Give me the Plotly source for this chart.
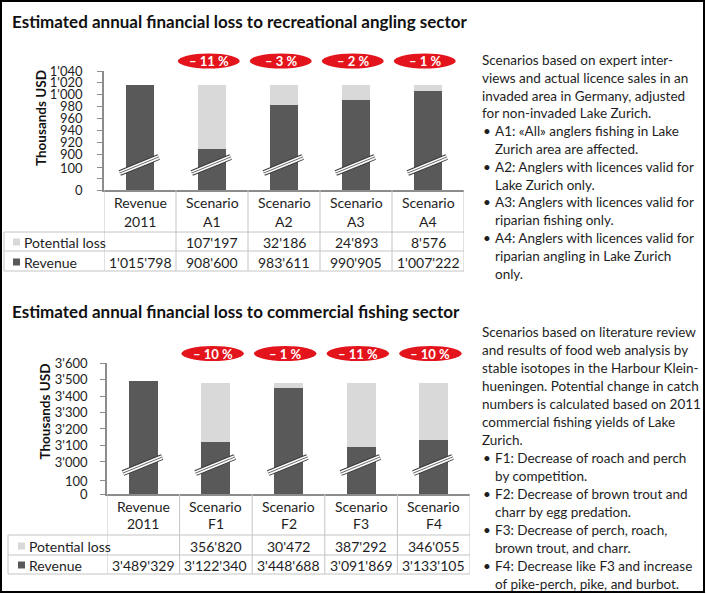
import numpy as np
import plotly.graph_objects as go

W, H = 706, 594

# ---------------- data ----------------
ang_title = "Estimated annual financial loss to recreational angling sector"
ang_cat_top = ["Revenue", "Scenario", "Scenario", "Scenario", "Scenario"]
ang_cat_bot = ["2011", "A1", "A2", "A3", "A4"]
ang_revenue = [1015798, 908600, 983611, 990905, 1007222]
ang_loss = [None, 107197, 32186, 24893, 8576]
ang_ticks = [0, 50, 100, 900, 920, 940, 960, 980, 1000, 1020, 1040]
ang_tick_text = ["0", "", "100", "900", "920", "940", "960", "980", "1'000", "1'020", "1'040"]
ang_notes = [
    ("p", "Scenarios based on expert inter-"),
    ("p", "views and actual licence sales in an"),
    ("p", "invaded area in Germany, adjusted"),
    ("p", "for non-invaded Lake Zurich."),
    ("b", "A1: «All» anglers fishing in Lake"),
    ("c", "Zurich area are affected."),
    ("b", "A2: Anglers with licences valid for"),
    ("c", "Lake Zurich only."),
    ("b", "A3: Anglers with licences valid for"),
    ("c", "riparian fishing only."),
    ("b", "A4: Anglers with licences valid for"),
    ("c", "riparian angling in Lake Zurich"),
    ("c", "only."),
]

com_title = "Estimated annual financial loss to commercial fishing sector"
com_cat_top = ["Revenue", "Scenario", "Scenario", "Scenario", "Scenario"]
com_cat_bot = ["2011", "F1", "F2", "F3", "F4"]
com_revenue = [3489329, 3122340, 3448688, 3091869, 3133105]
com_loss = [None, 356820, 30472, 387292, 346055]
com_ticks = [0, 100, 3000, 3100, 3200, 3300, 3400, 3500, 3600]
com_tick_text = ["0", "100", "3'000", "3'100", "3'200", "3'300", "3'400", "3'500", "3'600"]
com_notes = [
    ("p", "Scenarios based on literature review"),
    ("p", "and results of food web analysis by"),
    ("p", "stable isotopes in the Harbour Klein-"),
    ("p", "hueningen. Potential change in catch"),
    ("p", "numbers is calculated based on 2011"),
    ("p", "commercial fishing yields of Lake"),
    ("p", "Zurich."),
    ("b", "F1: Decrease of roach and perch"),
    ("c", "by competition."),
    ("b", "F2: Decrease of brown trout and"),
    ("c", "charr by egg predation."),
    ("b", "F3: Decrease of perch, roach,"),
    ("c", "brown trout, and charr."),
    ("b", "F4: Decrease like F3 and increase"),
    ("c", "of pike-perch, pike, and burbot."),
]

series_names = ["Potential loss", "Revenue"]

# ---------------- style ----------------
FONT = "Lato"
DARK = "#595959"
LIGHT = "#d9d9d9"
RED = "#e3141b"
GRID = "#c4c4c4"
AXIS = "#8c8c8c"
TXT = "#1e1e1e"
NOTE_SIZE = 13.5


def px(x):
    return x / W


def py(y):
    return 1 - y / H


def fmt(v):
    return f"{v:,}".replace(",", "'")


panels = [
    dict(xa="x", ya="y", x0=104, x1=464, ybot=190, ytop=71,
         knots_v=[0, 100, 900, 1040], knots_d=[0, 1.85, 3.0, 10.0],
         brk=(1.43, 2.77), title_y=22, badge_y=61,
         head_y=(203, 222), row_y=(242, 262), hl=(232, 251, 271),
         tleft=4, sq_x=13, lab_x=22, at_x=41, at_y=118, standoff=12,
         cat_top=ang_cat_top, cat_bot=ang_cat_bot, rev=ang_revenue, loss=ang_loss,
         ticks=ang_ticks, tick_text=ang_tick_text, title=ang_title,
         notes=ang_notes, note_y0=60, note_dy=17.8),
    dict(xa="x2", ya="y2", x0=107, x1=470, ybot=494, ytop=363,
         knots_v=[0, 100, 3000, 3600], knots_d=[0, 0.79, 1.94, 7.94],
         brk=(1.27, 2.24), title_y=311, badge_y=353.5,
         head_y=(506, 523), row_y=(546, 565), hl=(535, 555, 574),
         tleft=8, sq_x=18, lab_x=27, at_x=44.5, at_y=412, standoff=10,
         cat_top=com_cat_top, cat_bot=com_cat_bot, rev=com_revenue, loss=com_loss,
         ticks=com_ticks, tick_text=com_tick_text, title=com_title,
         notes=com_notes, note_y0=332, note_dy=18.0),
]

fig = go.Figure()
shapes = []
annos = []

for k, p in enumerate(panels):
    kv, kd = p["knots_v"], p["knots_d"]

    def d(v, kv=kv, kd=kd):
        return float(np.interp(v, kv, kd))

    n = len(p["rev"])
    xs = list(range(n))
    rev_k = [r / 1000 for r in p["rev"]]
    loss_k = [(l or 0) / 1000 for l in p["loss"]]
    rev_d = [d(r) for r in rev_k]
    tot_d = [d(r + l) for r, l in zip(rev_k, loss_k)]

    fig.add_trace(go.Bar(x=xs, y=rev_d, base=0, width=0.4, marker=dict(color=DARK, line=dict(width=0)),
                         name=series_names[1], xaxis=p["xa"], yaxis=p["ya"], showlegend=False,
                         hoverinfo="skip"))
    fig.add_trace(go.Bar(x=xs, y=[t - r for t, r in zip(tot_d, rev_d)], base=rev_d, width=0.4,
                         marker=dict(color=LIGHT, line=dict(width=0)),
                         name=series_names[0], xaxis=p["xa"], yaxis=p["ya"], showlegend=False,
                         hoverinfo="skip"))

    # break marks
    b0, b1 = p["brk"]
    for i in xs:
        for w, c in [(6, "#3a3a3a"), (4, "white"), (1, "#6a6a6a")]:
            shapes.append(dict(type="line", xref=p["xa"], yref=p["ya"], x0=i - 0.28, x1=i + 0.26,
                               y0=b0, y1=b1, line=dict(color=c, width=w), layer="above"))

    # badges
    for i in xs:
        if p["loss"][i] is None:
            continue
        pct = round(100 * p["loss"][i] / p["rev"][0])
        cx = i - 0.045
        shapes.append(dict(type="circle", xref=p["xa"], yref="paper", x0=cx - 0.43, x1=cx + 0.43,
                           y0=py(p["badge_y"] + 7.5), y1=py(p["badge_y"] - 7.5),
                           fillcolor=RED, line=dict(width=0)))
        annos.append(dict(xref=p["xa"], yref="paper", x=cx, y=py(p["badge_y"]), text=f"\u2013 {pct} %",
                          showarrow=False, font=dict(family=FONT, size=13, color="white", weight="bold"),
                          xanchor="center", yanchor="middle"))

    # table grid
    for j in range(n + 1):
        shapes.append(dict(type="line", xref=p["xa"], yref="paper", x0=j - 0.5, x1=j - 0.5,
                           y0=py(p["ybot"]), y1=py(p["hl"][2]), line=dict(color=GRID, width=1)))
    shapes.append(dict(type="line", xref="paper", yref="paper", x0=px(p["tleft"]), x1=px(p["tleft"]),
                       y0=py(p["hl"][0]), y1=py(p["hl"][2]), line=dict(color=GRID, width=1)))
    for yy in p["hl"]:
        shapes.append(dict(type="line", xref="paper", yref="paper", x0=px(p["tleft"]), x1=px(p["x1"]),
                           y0=py(yy), y1=py(yy), line=dict(color=GRID, width=1)))

    # header text
    for i in xs:
        for line, yy in zip([p["cat_top"][i], p["cat_bot"][i]], p["head_y"]):
            annos.append(dict(xref=p["xa"], yref="paper", x=i, y=py(yy), text=line, showarrow=False,
                              font=dict(family=FONT, size=14, color=TXT), xanchor="center", yanchor="middle"))
    # row labels with swatches
    for (name, col), yy in zip([(series_names[0], LIGHT), (series_names[1], DARK)], p["row_y"]):
        shapes.append(dict(type="rect", xref="paper", yref="paper", x0=px(p["sq_x"]), x1=px(p["sq_x"] + 7),
                           y0=py(yy + 3.5), y1=py(yy - 3.5), fillcolor=col, line=dict(width=0)))
        annos.append(dict(xref="paper", yref="paper", x=px(p["lab_x"]), y=py(yy), text=name, showarrow=False,
                          font=dict(family=FONT, size=14, color=TXT), xanchor="left", yanchor="middle"))
    # values
    for i in xs:
        if p["loss"][i] is not None:
            annos.append(dict(xref=p["xa"], yref="paper", x=i, y=py(p["row_y"][0]), text=fmt(p["loss"][i]),
                              showarrow=False, font=dict(family=FONT, size=14, color=TXT),
                              xanchor="center", yanchor="middle"))
        annos.append(dict(xref=p["xa"], yref="paper", x=i, y=py(p["row_y"][1]), text=fmt(p["rev"][i]),
                          showarrow=False, font=dict(family=FONT, size=14, color=TXT),
                          xanchor="center", yanchor="middle"))

    # title
    annos.append(dict(xref="paper", yref="paper", x=px(10), y=py(p["title_y"]), text=p["title"],
                      showarrow=False, font=dict(family=FONT, size=17, color="#111111", weight="bold"),
                      xanchor="left", yanchor="middle"))
    # axis title
    annos.append(dict(xref="paper", yref="paper", x=px(p["at_x"]), y=py(p["at_y"]), text="Thousands USD",
                      textangle=-90, showarrow=False,
                      font=dict(family=FONT, size=13.5, color="#111111", weight="bold"),
                      xanchor="center", yanchor="middle"))

    # notes
    for m, (kind, line) in enumerate(p["notes"]):
        yy = p["note_y0"] + m * p["note_dy"]
        if kind == "p":
            annos.append(dict(xref="paper", yref="paper", x=px(480), y=py(yy), text=line, showarrow=False,
                              font=dict(family=FONT, size=NOTE_SIZE, color=TXT), xanchor="left",
                              yanchor="middle"))
        else:
            if kind == "b":
                annos.append(dict(xref="paper", yref="paper", x=px(481), y=py(yy), text="\u2022",
                                  showarrow=False, font=dict(family=FONT, size=NOTE_SIZE, color=TXT),
                                  xanchor="left", yanchor="middle"))
            annos.append(dict(xref="paper", yref="paper", x=px(493), y=py(yy), text=line, showarrow=False,
                              font=dict(family=FONT, size=NOTE_SIZE, color=TXT), xanchor="left",
                              yanchor="middle"))

    # axes
    xkey = "xaxis" if k == 0 else "xaxis2"
    ykey = "yaxis" if k == 0 else "yaxis2"
    fig.update_layout(**{
        xkey: dict(domain=[px(p["x0"]), px(p["x1"])], range=[-0.5, n - 0.5], showticklabels=False,
                   showgrid=False, zeroline=False, showline=True, linecolor=AXIS, linewidth=1.5,
                   ticks="", anchor=("y" if k == 0 else "y2"), fixedrange=True, automargin=False),
        ykey: dict(domain=[py(p["ybot"]), py(p["ytop"])], range=[0, kd[-1]],
                   tickvals=[d(t) for t in p["ticks"]], ticktext=p["tick_text"],
                   ticks="outside", ticklen=5, tickcolor=AXIS, tickwidth=1,
                   ticklabelstandoff=p["standoff"],
                   showgrid=False, zeroline=False, showline=True, linecolor=AXIS, linewidth=1.5,
                   tickfont=dict(family=FONT, size=13, color=TXT),
                   anchor=("x" if k == 0 else "x2"), fixedrange=True, automargin=False),
    })

# outer frame
shapes.append(dict(type="rect", xref="paper", yref="paper", x0=px(1), x1=px(704), y0=py(592), y1=py(1),
                   line=dict(color="#000000", width=2), fillcolor="rgba(0,0,0,0)"))

fig.update_layout(width=W, height=H, margin=dict(l=0, r=0, t=0, b=0, pad=0, autoexpand=False),
                  paper_bgcolor="white", plot_bgcolor="white", barmode="overlay", bargap=0,
                  shapes=shapes, annotations=annos, showlegend=False)

fig.write_html("out.html", config={"displayModeBar": False},
               post_script="document.body.style.margin='0px';")
